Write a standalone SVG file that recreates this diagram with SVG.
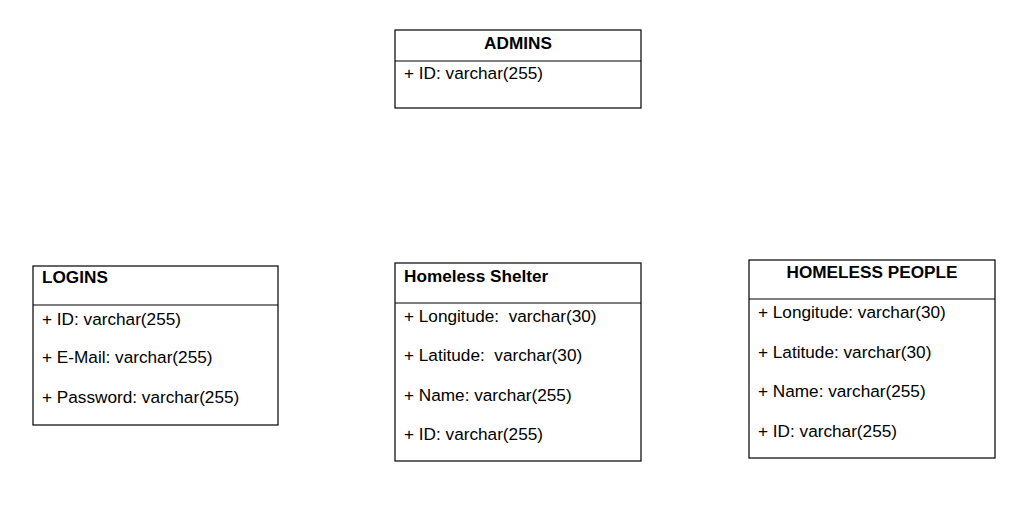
<svg xmlns="http://www.w3.org/2000/svg" width="1036" height="507" viewBox="0 0 1036 507">
<style>
.box{fill:#fff;stroke:#000;stroke-width:1.2}
.ln{stroke:#000;stroke-width:1.2}
.t{font-family:"Liberation Sans",Arial,sans-serif;font-size:17.2px;fill:#000}
.b{font-weight:bold}
</style>
<rect width="1036" height="507" fill="#fff"/>
<g id="admins">
<rect class="box" x="395" y="30" width="246" height="78"/>
<line class="ln" x1="395" y1="61" x2="641" y2="61"/>
<text class="t b" x="518" y="49" text-anchor="middle">ADMINS</text>
<text class="t" x="404" y="79">+ ID: varchar(255)</text>
</g>
<g id="logins">
<rect class="box" x="33" y="266" width="245" height="159"/>
<line class="ln" x1="33" y1="305" x2="278" y2="305"/>
<text class="t b" x="42" y="283">LOGINS</text>
<text class="t" x="42" y="325">+ ID: varchar(255)</text>
<text class="t" x="42" y="363">+ E-Mail: varchar(255)</text>
<text class="t" x="42" y="403">+ Password: varchar(255)</text>
</g>
<g id="shelter">
<rect class="box" x="395" y="263" width="246" height="198"/>
<line class="ln" x1="395" y1="303" x2="641" y2="303"/>
<text class="t b" x="404" y="282">Homeless Shelter</text>
<text class="t" x="404" y="322" xml:space="preserve">+ Longitude:  varchar(30)</text>
<text class="t" x="404" y="361" xml:space="preserve">+ Latitude:  varchar(30)</text>
<text class="t" x="404" y="401">+ Name: varchar(255)</text>
<text class="t" x="404" y="440">+ ID: varchar(255)</text>
</g>
<g id="people">
<rect class="box" x="749" y="260" width="246" height="198"/>
<line class="ln" x1="749" y1="299" x2="995" y2="299"/>
<text class="t b" x="872" y="278" text-anchor="middle">HOMELESS PEOPLE</text>
<text class="t" x="758" y="318">+ Longitude: varchar(30)</text>
<text class="t" x="758" y="358">+ Latitude: varchar(30)</text>
<text class="t" x="758" y="397">+ Name: varchar(255)</text>
<text class="t" x="758" y="437">+ ID: varchar(255)</text>
</g>
<g id="connectors"></g>
</svg>
